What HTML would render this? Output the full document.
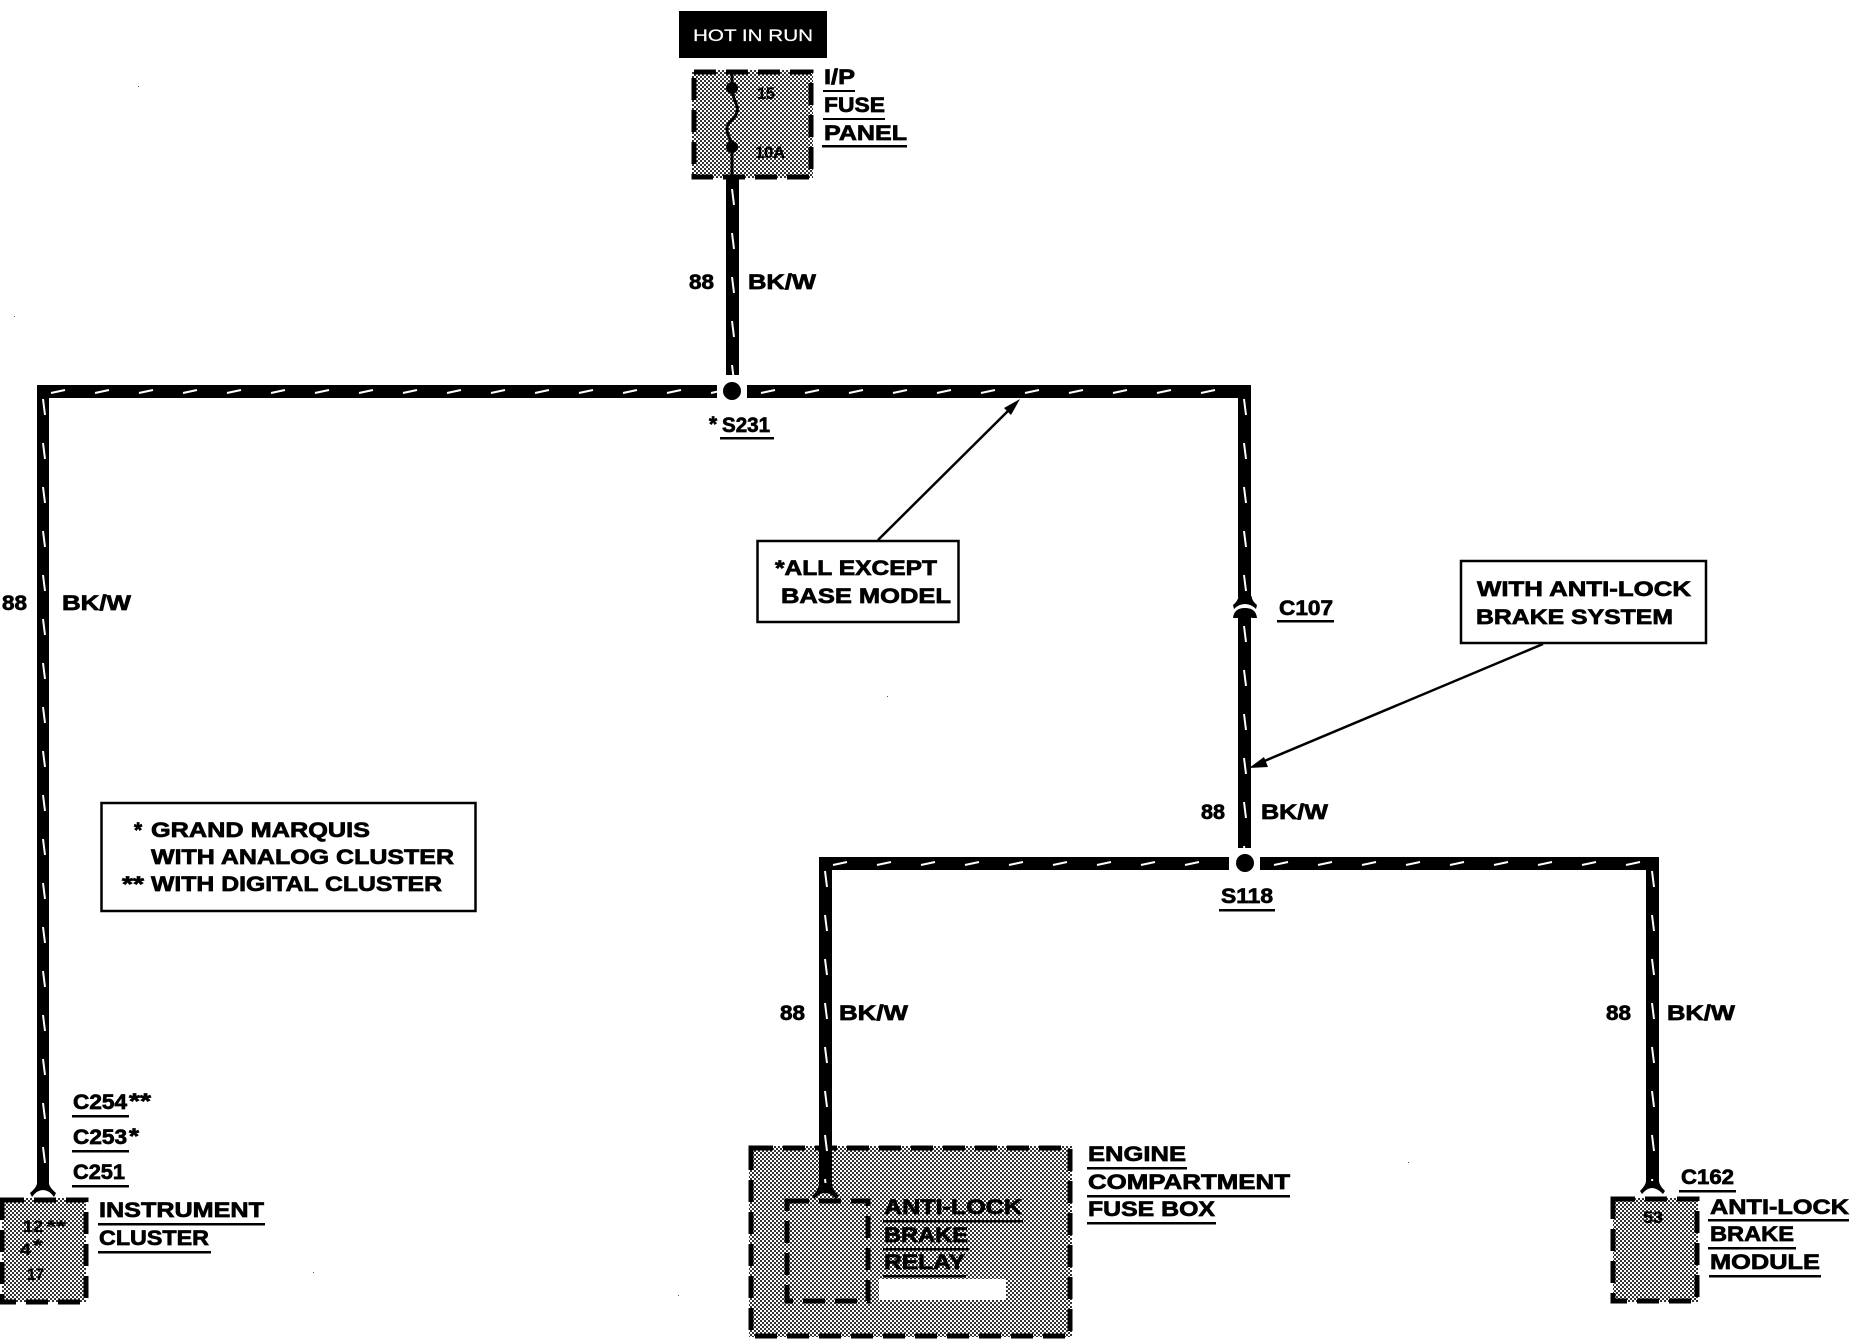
<!DOCTYPE html>
<html>
<head>
<meta charset="utf-8">
<style>
html,body{margin:0;padding:0;background:#fff;width:1850px;height:1344px;overflow:hidden}
svg{display:block}
text{font-family:"Liberation Sans",sans-serif;font-weight:bold;font-size:21px;fill:#000;stroke:#000;stroke-width:.7px}
.s{font-size:17px;stroke-width:.3px}
.w{fill:#fff;stroke:#fff;stroke-width:.2px;font-weight:normal;font-size:17px}
.b{fill:none;stroke:#000;stroke-width:5;stroke-dasharray:22 10}
</style>
</head>
<body>
<svg xmlns="http://www.w3.org/2000/svg" width="1850" height="1344" viewBox="0 0 1850 1344">
<defs>
<pattern id="dith" width="4" height="4" patternUnits="userSpaceOnUse">
<rect width="4" height="4" fill="#fff"/>
<rect x="0" y="0" width="2" height="2" fill="#333"/>
<rect x="2" y="2" width="2" height="2" fill="#333"/>
</pattern>
<pattern id="hw" width="44" height="13" patternUnits="userSpaceOnUse">
<rect width="44" height="13" fill="#000"/>
<path d="M14 8 L28 5" stroke="#fff" stroke-width="2"/>
</pattern>
<pattern id="vw" width="13" height="44" patternUnits="userSpaceOnUse">
<rect width="13" height="44" fill="#000"/>
<path d="M6 14 L8 30" stroke="#fff" stroke-width="2"/>
</pattern>
</defs>
<rect width="1850" height="1344" fill="#fff"/>

<!-- dithered boxes -->
<rect x="692" y="70" width="121" height="108" fill="url(#dith)"/>
<rect x="2" y="1198" width="84" height="104" fill="url(#dith)"/>
<rect x="749" y="1146" width="323" height="191" fill="url(#dith)"/>
<rect x="1613" y="1198" width="85" height="104" fill="url(#dith)"/>
<rect x="879" y="1279" width="127" height="21" fill="#fff"/>

<!-- dashed outlines -->
<rect class="b" x="694" y="72" width="117" height="105"/>
<rect class="b" x="2" y="1200" width="84" height="102"/>
<rect class="b" x="751" y="1148" width="319" height="188"/>
<rect class="b" x="787" y="1201" width="81" height="100"/>
<rect class="b" x="1613" y="1199" width="84" height="102"/>

<!-- fuse -->
<path d="M732 70 V88 C732 100 739 104 737 112 C735 120 726 122 727 130 C728 138 732 140 732 147 V176" fill="none" stroke="#000" stroke-width="3"/>
<circle cx="732" cy="88" r="6"/>
<circle cx="732" cy="147" r="6"/>

<!-- wires -->
<g transform="translate(726,175)"><rect width="13" height="200" fill="url(#vw)"/></g>
<g transform="translate(37,385)"><rect width="680" height="13" fill="url(#hw)"/></g>
<g transform="translate(747,385)"><rect width="503" height="13" fill="url(#hw)"/></g>
<g transform="translate(37,385)"><rect width="12" height="800" fill="url(#vw)"/></g>
<g transform="translate(1238,385)"><rect width="13" height="212" fill="url(#vw)"/></g>
<g transform="translate(1238,612)"><rect width="13" height="236" fill="url(#vw)"/></g>
<g transform="translate(819,857)"><rect width="410" height="13" fill="url(#hw)"/></g>
<g transform="translate(1260,857)"><rect width="399" height="13" fill="url(#hw)"/></g>
<g transform="translate(819,857)"><rect width="13" height="328" fill="url(#vw)"/></g>
<g transform="translate(1646,857)"><rect width="13" height="326" fill="url(#vw)"/></g>

<circle cx="732" cy="391" r="9"/>
<circle cx="1245" cy="863" r="9"/>

<!-- connector flares -->
<path d="M1238.500 596 Q1238 601 1233 605 L1234 609 Q1239 604 1245 604 Q1251 604 1256 609 L1257 605 Q1252 601 1251.500 596 Z"/>
<path d="M1238.500 618 L1233 618 Q1234 608 1245 608 Q1256 608 1257 618 L1251.500 618 Q1250 613 1245 613 Q1240 613 1238.500 618 Z"/>
<rect x="1238" y="612" width="13" height="8"/>
<path d="M37 1183 Q37 1187 30 1193 L32 1197 Q37 1190 43 1190 Q49 1190 54 1197 L56 1193 Q49 1187 49 1183 Z"/>
<path d="M819 1183 Q819 1190 812 1196 L814 1199 Q819 1193 825 1193 Q831 1193 836 1199 L839 1196 Q832 1190 832 1183 Z"/>
<path d="M1646 1181 Q1646 1185 1640 1191 L1642 1194 Q1647 1188 1652 1188 Q1657 1188 1663 1194 L1665 1191 Q1659 1185 1659 1181 Z"/>

<!-- note boxes -->
<rect x="101.500" y="803" width="374" height="108" fill="none" stroke="#000" stroke-width="2.500"/>
<rect x="757.500" y="541" width="201" height="81" fill="none" stroke="#000" stroke-width="2.500"/>
<rect x="1461" y="561" width="245" height="82" fill="none" stroke="#000" stroke-width="2.500"/>

<!-- arrows -->
<path d="M878 540 L1012 407" stroke="#000" stroke-width="2.500" fill="none"/>
<path d="M1020 399 L1004 408 L1011 415 Z"/>
<path d="M1543 644 L1262 762" stroke="#000" stroke-width="2.500" fill="none"/>
<path d="M1249 768 L1264 757 L1268 767 Z"/>

<!-- hot box -->
<rect x="679" y="11" width="148" height="47"/>
<text class="w" x="693" y="41" textLength="120" lengthAdjust="spacingAndGlyphs">HOT IN RUN</text>

<!-- fuse panel labels -->
<text class="s" x="757" y="99" textLength="18" lengthAdjust="spacingAndGlyphs">15</text>
<text class="s" x="755" y="158" textLength="30" lengthAdjust="spacingAndGlyphs">10A</text>
<text x="824" y="84" textLength="31" lengthAdjust="spacingAndGlyphs">I/P</text>
<rect x="823" y="90" width="32" height="2"/>
<text x="824" y="112" textLength="61" lengthAdjust="spacingAndGlyphs">FUSE</text>
<rect x="823" y="118" width="62" height="2"/>
<text x="824" y="140" textLength="83" lengthAdjust="spacingAndGlyphs">PANEL</text>
<rect x="822" y="145" width="85" height="2.500"/>

<!-- wire labels -->
<text x="689" y="289" textLength="25" lengthAdjust="spacingAndGlyphs">88</text>
<text x="748" y="289" textLength="68" lengthAdjust="spacingAndGlyphs">BK/W</text>
<text x="2" y="610" textLength="25" lengthAdjust="spacingAndGlyphs">88</text>
<text x="62" y="610" textLength="69" lengthAdjust="spacingAndGlyphs">BK/W</text>
<text x="1201" y="819" textLength="24" lengthAdjust="spacingAndGlyphs">88</text>
<text x="1261" y="819" textLength="67" lengthAdjust="spacingAndGlyphs">BK/W</text>
<text x="780" y="1020" textLength="25" lengthAdjust="spacingAndGlyphs">88</text>
<text x="839" y="1020" textLength="69" lengthAdjust="spacingAndGlyphs">BK/W</text>
<text x="1606" y="1020" textLength="25" lengthAdjust="spacingAndGlyphs">88</text>
<text x="1667" y="1020" textLength="68" lengthAdjust="spacingAndGlyphs">BK/W</text>

<!-- splices -->
<text x="709" y="431">*</text>
<text x="722" y="432" textLength="48" lengthAdjust="spacingAndGlyphs">S231</text>
<rect x="720" y="437" width="54" height="2.500"/>
<text x="1221" y="903" textLength="52" lengthAdjust="spacingAndGlyphs">S118</text>
<rect x="1219" y="909" width="56" height="2.500"/>
<text x="1279" y="615" textLength="54" lengthAdjust="spacingAndGlyphs">C107</text>
<rect x="1277" y="620" width="57" height="2.500"/>

<!-- note text -->
<text x="775" y="575" textLength="162" lengthAdjust="spacingAndGlyphs">*ALL EXCEPT</text>
<text x="781" y="603" textLength="170" lengthAdjust="spacingAndGlyphs">BASE MODEL</text>
<text x="1477" y="596" textLength="214" lengthAdjust="spacingAndGlyphs">WITH ANTI-LOCK</text>
<text x="1476" y="624" textLength="197" lengthAdjust="spacingAndGlyphs">BRAKE SYSTEM</text>
<text x="134" y="837">*</text>
<text x="151" y="837" textLength="219" lengthAdjust="spacingAndGlyphs">GRAND MARQUIS</text>
<text x="151" y="864" textLength="303" lengthAdjust="spacingAndGlyphs">WITH ANALOG CLUSTER</text>
<text x="122" y="891" textLength="22" lengthAdjust="spacingAndGlyphs">**</text>
<text x="151" y="891" textLength="291" lengthAdjust="spacingAndGlyphs">WITH DIGITAL CLUSTER</text>

<!-- instrument cluster -->
<text x="73" y="1109" textLength="54" lengthAdjust="spacingAndGlyphs">C254</text>
<text x="129" y="1108" textLength="22" lengthAdjust="spacingAndGlyphs">**</text>
<rect x="72" y="1115" width="57" height="2.500"/>
<text x="73" y="1144" textLength="54" lengthAdjust="spacingAndGlyphs">C253</text>
<text x="129" y="1143" textLength="10" lengthAdjust="spacingAndGlyphs">*</text>
<rect x="72" y="1150" width="57" height="2.500"/>
<text x="73" y="1179" textLength="52" lengthAdjust="spacingAndGlyphs">C251</text>
<rect x="72" y="1185" width="57" height="2.500"/>
<text x="99" y="1217" textLength="165" lengthAdjust="spacingAndGlyphs">INSTRUMENT</text>
<rect x="98" y="1223" width="167" height="2.500"/>
<text x="99" y="1245" textLength="110" lengthAdjust="spacingAndGlyphs">CLUSTER</text>
<rect x="98" y="1251" width="113" height="2.500"/>
<text class="s" x="23" y="1232" textLength="20" lengthAdjust="spacingAndGlyphs">12</text>
<text class="s" x="46" y="1232" textLength="20" lengthAdjust="spacingAndGlyphs">**</text>
<text class="s" x="20" y="1255" textLength="11" lengthAdjust="spacingAndGlyphs">4</text>
<text class="s" x="33" y="1251" textLength="10" lengthAdjust="spacingAndGlyphs">*</text>
<text class="s" x="27" y="1280" textLength="17" lengthAdjust="spacingAndGlyphs">17</text>

<!-- engine compartment -->
<text x="1088" y="1161" textLength="98" lengthAdjust="spacingAndGlyphs">ENGINE</text>
<rect x="1087" y="1167" width="100" height="2.500"/>
<text x="1088" y="1189" textLength="202" lengthAdjust="spacingAndGlyphs">COMPARTMENT</text>
<rect x="1087" y="1195" width="203" height="2.500"/>
<text x="1088" y="1216" textLength="127" lengthAdjust="spacingAndGlyphs">FUSE BOX</text>
<rect x="1087" y="1222" width="129" height="2.500"/>
<text x="884" y="1214" textLength="138" lengthAdjust="spacingAndGlyphs">ANTI-LOCK</text>
<rect x="883" y="1220" width="140" height="2.500"/>
<text x="884" y="1242" textLength="84" lengthAdjust="spacingAndGlyphs">BRAKE</text>
<rect x="883" y="1248" width="86" height="2.500"/>
<text x="884" y="1269" textLength="81" lengthAdjust="spacingAndGlyphs">RELAY</text>
<rect x="883" y="1275" width="83" height="2.500"/>

<!-- abs module -->
<text x="1681" y="1184" textLength="53" lengthAdjust="spacingAndGlyphs">C162</text>
<rect x="1679" y="1190" width="57" height="2.500"/>
<text x="1710" y="1214" textLength="139" lengthAdjust="spacingAndGlyphs">ANTI-LOCK</text>
<rect x="1708" y="1219" width="141" height="2.500"/>
<text x="1710" y="1241" textLength="84" lengthAdjust="spacingAndGlyphs">BRAKE</text>
<rect x="1708" y="1247" width="88" height="2.500"/>
<text x="1710" y="1269" textLength="110" lengthAdjust="spacingAndGlyphs">MODULE</text>
<rect x="1709" y="1275" width="112" height="2.500"/>
<text class="s" x="1643" y="1223" textLength="20" lengthAdjust="spacingAndGlyphs">53</text>

<!-- specks -->
<g fill="#555">
<rect x="138" y="86" width="1" height="1"/>
<rect x="14" y="316" width="1" height="1"/>
<rect x="887" y="696" width="1" height="1"/>
<rect x="1408" y="1162" width="1" height="1"/>
<rect x="678" y="1295" width="1" height="1"/>
<rect x="313" y="1272" width="1" height="1"/>
</g>
</svg>
</body>
</html>
